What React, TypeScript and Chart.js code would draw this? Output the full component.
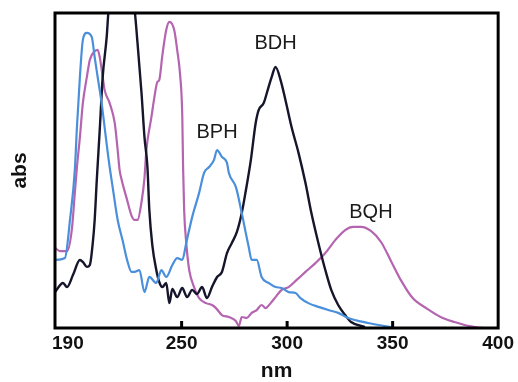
import React, { useEffect, useRef } from "react";
import { Chart, registerables } from "chart.js";

Chart.register(...registerables);

const xTicks = [190, 250, 300, 350, 400];

const bphNm = [190, 194.7, 197.1, 199.4, 200.4, 201.8, 203.2, 205.1, 207.4, 208.8, 210.2, 212.1, 213.5, 215.0, 215.9, 217.3, 219.7, 222.0, 224.4, 226.3, 227.7, 230.0, 232.4, 234.7, 238.0, 240.4, 242.7, 245.6, 247.9, 250.3, 252.2, 255.0, 258.3, 260.6, 263.0, 265.3, 266.8, 269.1, 271.5, 272.4, 275.7, 278.5, 280.4, 281.8, 283.2, 285.6, 287.9, 291.2, 294.5, 297.4, 300.7, 304.0, 306.3, 310.1, 314.8, 319.5, 324.2, 328.9, 338.3, 349.2];
const bphAbs = [21.6, 22.2, 34.3, 50.2, 63.8, 79.7, 91.4, 93.7, 92.4, 86.0, 79.7, 71.4, 63.8, 55.6, 51.1, 44.8, 34.3, 27.9, 21.0, 17.8, 17.8, 18.4, 11.4, 16.2, 14.3, 18.4, 16.2, 20.0, 22.2, 21.6, 27.0, 35.2, 42.9, 49.2, 51.1, 53.3, 56.5, 54.3, 52.4, 49.2, 44.8, 36.5, 30.2, 25.7, 21.6, 21.6, 16.2, 14.3, 13.0, 12.7, 11.4, 11.1, 9.5, 7.9, 6.7, 5.7, 4.8, 3.2, 1.6, 0.3];

const bdhNm = [190, 193.8, 195.7, 198.5, 201.8, 203.2, 205.1, 206.5, 207.9, 208.8, 209.8, 211.2, 212.6, 214.5, 215.4, 221.1, 227.7, 229.1, 231.0, 232.4, 233.8, 234.7, 236.1, 238.0, 239.4, 240.9, 242.7, 244.2, 245.6, 247.9, 250.3, 252.6, 255.0, 257.3, 259.7, 262.0, 264.4, 266.8, 269.1, 271.5, 273.8, 276.2, 278.5, 280.4, 282.8, 285.1, 286.5, 288.9, 291.2, 292.7, 294.5, 296.9, 299.2, 302.1, 305.4, 308.7, 311.5, 314.8, 318.1, 320.9, 324.2, 327.5, 330.3, 336.9];
const bdhAbs = [11.4, 14.3, 13.0, 16.8, 21.6, 21.0, 19.4, 20.0, 27.0, 34.3, 47.0, 62.9, 79.7, 92.4, 101, 115, 101, 90.5, 74.6, 60.6, 51.1, 37.5, 26.4, 18.4, 14.6, 13.0, 14.3, 7.9, 12.4, 9.8, 12.7, 9.8, 12.1, 10.8, 13.0, 9.5, 13.0, 16.2, 17.8, 23.8, 27.0, 30.5, 36.5, 43.5, 53.3, 65.1, 69.2, 71.4, 76.5, 79.7, 82.9, 78.7, 72.4, 63.8, 55.6, 46.0, 36.5, 27.0, 18.4, 12.1, 7.3, 4.1, 1.9, 0.3];

const bqhNm = [190, 192.4, 195.7, 198.0, 199.4, 200.4, 201.8, 203.2, 205.1, 206.5, 208.4, 210.2, 211.2, 212.6, 213.5, 215.9, 218.3, 219.7, 220.6, 221.6, 223.9, 226.3, 227.7, 229.1, 231.0, 232.4, 233.3, 235.7, 237.1, 238.5, 239.4, 240.9, 242.7, 244.2, 246.5, 247.9, 249.3, 250.3, 250.7, 251.2, 252.2, 253.6, 255.9, 258.3, 261.6, 264.4, 266.3, 269.1, 272.4, 275.7, 277.1, 278.5, 280.9, 283.2, 285.6, 287.9, 289.8, 292.2, 294.5, 297.4, 300.7, 304.4, 308.7, 313.4, 318.1, 322.8, 327.5, 331.3, 335.0, 339.7, 344.5, 349.2, 353.9, 359.5, 366.6, 372.7, 379.3, 386.4, 393.4, 399.5];
const bqhAbs = [25.4, 24.4, 24.4, 31.4, 42.9, 51.1, 60.6, 71.4, 79.7, 85.1, 87.6, 88.3, 86.0, 79.7, 75.6, 71.4, 65.1, 56.5, 50.2, 47.0, 41.3, 35.6, 34.3, 34.3, 40.0, 47.6, 56.5, 67.0, 73.3, 78.1, 78.7, 86.7, 94.6, 97.2, 94.6, 88.3, 80.3, 67.6, 51.1, 37.5, 27.0, 18.4, 13.0, 9.5, 7.9, 7.3, 6.3, 4.1, 3.5, 2.2, 0.6, 3.5, 3.2, 4.8, 5.7, 7.3, 6.3, 7.9, 9.8, 12.1, 13.0, 15.2, 17.8, 20.6, 23.8, 27.9, 31.1, 32.1, 32.1, 30.8, 27.3, 21.3, 15.2, 9.5, 6.0, 3.5, 1.9, 0.6, 0, 0];

const peakLabels = ["BPH", "BDH", "BQH"];
const peakLabelNm = [266.8, 294.5, 339.7];
const peakLabelAbs = [62.2, 90.2, 36.8];

const FONT = "'Liberation Sans', Arial, sans-serif";

const toPoints = (xs: number[], ys: number[]) => xs.map((x, i) => ({ x, y: ys[i] }));

const framePlugin = {
  id: "frame",
  beforeDraw(chart: any) {
    const xs = chart.scales.x;
    const items = xs.getLabelItems(chart.chartArea);
    if (items && items.length) {
      items[0].options.textAlign = "left";
      items[0].options.translation = [xs.getPixelForValue(xTicks[0]) - 3, items[0].options.translation[1]];
    }
  },
  afterDatasetsDraw(chart: any) {
    const { ctx, chartArea } = chart;
    const xs = chart.scales.x;
    const ys = chart.scales.y;
    ctx.save();
    ctx.fillStyle = "#1a1a1a";
    ctx.font = `20px ${FONT}`;
    ctx.textAlign = "center";
    ctx.textBaseline = "middle";
    peakLabels.forEach((t, i) => {
      ctx.fillText(t, xs.getPixelForValue(peakLabelNm[i]), ys.getPixelForValue(peakLabelAbs[i]));
    });
    ctx.strokeStyle = "#000";
    ctx.lineWidth = 3;
    ctx.strokeRect(chartArea.left, chartArea.top, chartArea.right - chartArea.left, chartArea.bottom - chartArea.top);
    xTicks.slice(1, -1).forEach((v) => {
      const px = xs.getPixelForValue(v);
      ctx.beginPath();
      ctx.moveTo(px, chartArea.bottom);
      ctx.lineTo(px, chartArea.bottom - 7);
      ctx.stroke();
    });
    ctx.restore();
  },
};

export default function App() {
  const ref = useRef<HTMLCanvasElement | null>(null);
  useEffect(() => {
    if (!ref.current) return;
    const common = { pointRadius: 0, cubicInterpolationMode: "monotone" as const };
    const chart = new Chart(ref.current, {
      type: "line",
      data: {
        datasets: [
          { label: "BPH", data: toPoints(bphNm, bphAbs), borderColor: "#4a8fdb", borderWidth: 2.2, ...common },
          { label: "BDH", data: toPoints(bdhNm, bdhAbs), borderColor: "#15152b", borderWidth: 2.4, ...common },
          { label: "BQH", data: toPoints(bqhNm, bqhAbs), borderColor: "#b564b0", borderWidth: 2.2, ...common },
        ],
      },
      options: {
        animation: false,
        responsive: true,
        maintainAspectRatio: false,
        layout: { padding: { top: 13, right: 17, left: 0, bottom: 0 } },
        plugins: { legend: { display: false }, tooltip: { enabled: false } },
        scales: {
          x: {
            type: "linear",
            min: 190,
            max: 400,
            afterBuildTicks: (s: any) => { s.ticks = xTicks.map((v) => ({ value: v })); },
            afterFit: (s: any) => { s.height = 54; },
            grid: { display: false, drawTicks: false },
            border: { display: false },
            ticks: { color: "#111", font: { family: FONT, size: 19, weight: "bold" }, padding: 4, maxRotation: 0, autoSkip: false },
            title: { display: true, text: "nm", color: "#111", font: { family: FONT, size: 21, weight: "bold", lineHeight: 1 }, padding: { top: 0, bottom: 0 } },
          },
          y: {
            min: 0,
            max: 100,
            afterFit: (s: any) => { s.width = 55; },
            grid: { display: false, drawTicks: false },
            border: { display: false },
            ticks: { display: false },
            title: { display: true, text: "abs", color: "#111", font: { family: FONT, size: 21, weight: "bold", lineHeight: 1 }, padding: { top: 10, bottom: 0 } },
          },
        },
      },
      plugins: [framePlugin],
    });
    return () => chart.destroy();
  }, []);
  return (
    <div style={{ position: "absolute", left: 0, top: 0, width: 518, height: 382, background: "#fff" }}>
      <canvas ref={ref} />
    </div>
  );
}
